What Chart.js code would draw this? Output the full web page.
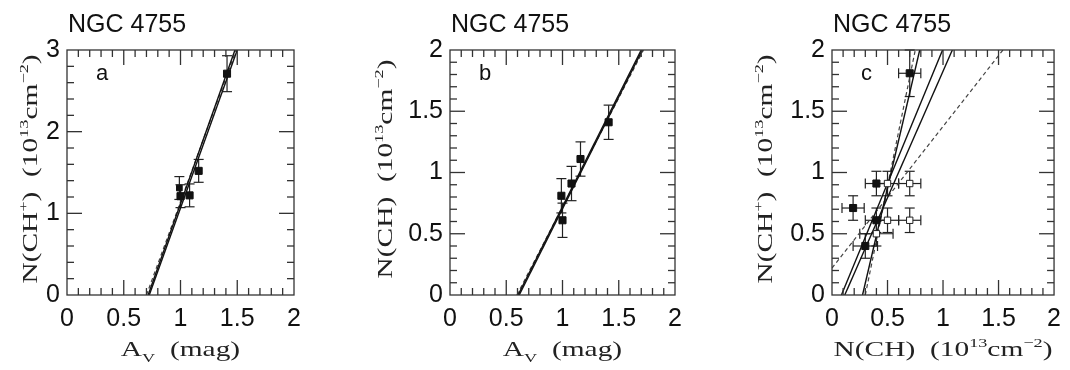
<!DOCTYPE html>
<html>
<head>
<meta charset="utf-8">
<script src="https://cdn.jsdelivr.net/npm/chart.js@4.4.0/dist/chart.umd.min.js"></script>
<style>
  html, body { margin: 0; padding: 0; background: #fff; }
  #wrap { position: relative; width: 1070px; height: 370px; }
  #wrap canvas { position: absolute; top: 0; }
</style>
</head>
<body>
<div id="wrap">
  <canvas id="panelA" width="356" height="370" style="left:0px"></canvas>
  <canvas id="panelB" width="357" height="370" style="left:356px"></canvas>
  <canvas id="panelC" width="357" height="370" style="left:713px"></canvas>
</div>
<script>
// panel a : N(CH+) against A_V
const avA = [0.99, 1.0, 1.08, 1.16, 1.41];
const chpA = [1.31, 1.21, 1.22, 1.52, 2.71];
const chpErrA = [0.14, 0.14, 0.14, 0.14, 0.22];
// fit lines, [x0, y0, x1, y1]
const solidA = [[0.715, 0, 1.48, 3], [0.725, 0, 1.50, 3]];
const dashedA = [[0.70, 0, 1.49, 3]];

// panel b : N(CH) against A_V
const avB = [0.99, 1.0, 1.08, 1.16, 1.41];
const chB = [0.81, 0.61, 0.91, 1.11, 1.41];
const chErrB = [0.14, 0.14, 0.14, 0.14, 0.14];
const solidB = [[0.605, 0, 1.70, 2], [0.615, 0, 1.71, 2]];
const dashedB = [[0.595, 0, 1.72, 2]];

// panel c : N(CH+) against N(CH)
const chC = [0.70, 0.40, 0.19, 0.40, 0.30];
const chpC = [1.81, 0.91, 0.71, 0.61, 0.40];
const chErrC = [0.10, 0.10, 0.10, 0.10, 0.11];
const chpErrC = [0.19, 0.10, 0.10, 0.10, 0.10];
const chOpenC = [0.50, 0.70, 0.50, 0.70, 0.40];
const chpOpenC = [0.91, 0.91, 0.61, 0.61, 0.50];
const chErrOpenC = [0.10, 0.10, 0.10, 0.10, 0.15];
const chpErrOpenC = [0.10, 0.10, 0.10, 0.10, 0.10];
const solidC = [[0.275, 0, 0.79, 2], [0.085, 0, 0.996, 2], [0.115, 0, 1.084, 2]];
const dashedC = [[0.30, 0, 0.75, 2], [0, 0.22, 1.54, 2]];

const xTicks = [0, 0.5, 1, 1.5, 2];

const sans = '"Liberation Sans", Arial, sans-serif';
const serif = '"Liberation Serif", "Times New Roman", serif';

const titleCH = [{ t: 'N(CH)  (10' }, { t: '13', sup: 1 }, { t: 'cm' }, { t: '\u22122', sup: 1 }, { t: ')' }];
const titleCHp = [{ t: 'N(CH' }, { t: '+', sup: 1 }, { t: ')  (10' }, { t: '13', sup: 1 }, { t: 'cm' }, { t: '\u22122', sup: 1 }, { t: ')' }];
const titleAv = [{ t: 'A' }, { t: 'V', sub: 1 }, { t: '  (mag)' }];

function pts(xs, ys) {
  return xs.map((x, i) => ({ x: x, y: ys[i] }));
}

// serif label with super/subscripts, stretched sideways like the original
function drawRich(ctx, segs, cx, cy, rotate) {
  const f = 21, stretch = 1.4;
  ctx.save();
  ctx.translate(cx, cy);
  if (rotate) ctx.rotate(-Math.PI / 2);
  ctx.scale(stretch, 1);
  let w = 0;
  segs.forEach(s => {
    ctx.font = ((s.sup || s.sub) ? f * 0.62 : f) + 'px ' + serif;
    w += ctx.measureText(s.t).width;
  });
  let xx = -w / 2;
  ctx.fillStyle = '#222';
  ctx.textAlign = 'left';
  ctx.textBaseline = 'alphabetic';
  segs.forEach(s => {
    ctx.font = ((s.sup || s.sub) ? f * 0.62 : f) + 'px ' + serif;
    const dy = s.sup ? -f * 0.45 : (s.sub ? f * 0.3 : 0);
    ctx.fillText(s.t, xx, dy);
    xx += ctx.measureText(s.t).width;
  });
  ctx.restore();
}

const frame = {
  id: 'frame',
  afterDatasetsDraw(chart, args, o) {
    const { ctx, chartArea: a, scales: { x, y } } = chart;
    ctx.save();
    ctx.strokeStyle = '#333';
    ctx.lineWidth = 1.3;
    const seg = (x0, y0, x1, y1) => {
      ctx.beginPath(); ctx.moveTo(x0, y0); ctx.lineTo(x1, y1); ctx.stroke();
    };
    let n = Math.round(x.max / 0.1);
    for (let i = 1; i < n; i++) {
      const px = x.getPixelForValue(i * 0.1);
      const len = i % 5 === 0 ? 15 : 7;
      seg(px, a.bottom, px, a.bottom - len);
      seg(px, a.top, px, a.top + len);
    }
    n = Math.round(y.max / o.yMinor);
    const every = Math.round(o.yMajor / o.yMinor);
    for (let i = 1; i < n; i++) {
      const py = y.getPixelForValue(i * o.yMinor);
      const len = i % every === 0 ? 15 : 7;
      seg(a.left, py, a.left + len, py);
      seg(a.right, py, a.right - len, py);
    }
    ctx.strokeRect(a.left, a.top, a.right - a.left, a.bottom - a.top);
    ctx.restore();
  },
  afterDraw(chart, args, o) {
    const { ctx, chartArea: a } = chart;
    ctx.save();
    ctx.fillStyle = '#111';
    ctx.textAlign = 'left';
    ctx.textBaseline = 'alphabetic';
    ctx.font = '25px ' + sans;
    ctx.fillText('NGC 4755', a.left + 1, 32);
    ctx.font = '22px ' + sans;
    ctx.fillText(o.letter, a.left + 29, 80);
    ctx.restore();
    drawRich(ctx, o.xTitle, (a.left + a.right) / 2, 356, false);
    drawRich(ctx, o.yTitle, a.left + o.yTitleOffset, 169, true);
  }
};

const errorBars = {
  id: 'errorBars',
  beforeDatasetsDraw(chart) {
    const { ctx, scales: { x, y } } = chart;
    ctx.save();
    ctx.strokeStyle = '#222';
    ctx.lineWidth = 1.2;
    const seg = (x0, y0, x1, y1) => {
      ctx.beginPath(); ctx.moveTo(x0, y0); ctx.lineTo(x1, y1); ctx.stroke();
    };
    chart.data.datasets.forEach(ds => {
      if (!ds.xErr && !ds.yErr) return;
      ds.data.forEach((p, i) => {
        const px = x.getPixelForValue(p.x), py = y.getPixelForValue(p.y);
        if (ds.yErr) {
          const t = y.getPixelForValue(p.y + ds.yErr[i]);
          const b = y.getPixelForValue(p.y - ds.yErr[i]);
          seg(px, t, px, b);
          seg(px - 5, t, px + 5, t);
          seg(px - 5, b, px + 5, b);
        }
        if (ds.xErr) {
          const l = x.getPixelForValue(p.x - ds.xErr[i]);
          const r = x.getPixelForValue(p.x + ds.xErr[i]);
          seg(l, py, r, py);
          seg(l, py - 5, l, py + 5);
          seg(r, py - 5, r, py + 5);
        }
      });
    });
    ctx.restore();
  }
};

function lineSets(list, dashed) {
  return list.map(l => ({
    data: [{ x: l[0], y: l[1] }, { x: l[2], y: l[3] }],
    showLine: true,
    pointRadius: 0,
    borderWidth: dashed ? 1.2 : 1.4,
    borderColor: dashed ? '#444' : '#111',
    borderDash: dashed ? [4, 3] : []
  }));
}

function makePanel(id, p) {
  new Chart(document.getElementById(id), {
    type: 'scatter',
    data: { datasets: p.datasets },
    plugins: [errorBars, frame],
    options: {
      responsive: false,
      animation: false,
      layout: { padding: { top: 50, right: p.rightPad, left: 0, bottom: 0 } },
      plugins: {
        legend: { display: false },
        tooltip: { enabled: false },
        frame: { letter: p.letter, xTitle: p.xTitle, yTitle: p.yTitle, yTitleOffset: p.yTitleOffset, yMinor: p.yMinor, yMajor: p.yMajor }
      },
      scales: {
        x: {
          type: 'linear', min: 0, max: 2,
          afterBuildTicks: s => { s.ticks = xTicks.map(v => ({ value: v })); },
          afterFit: s => { s.height = 75; },
          grid: { display: false, drawTicks: false },
          border: { display: false },
          ticks: { padding: 9, color: '#111', font: { family: sans, size: 25 }, autoSkip: false, maxRotation: 0, callback: v => String(v) }
        },
        y: {
          type: 'linear', min: 0, max: p.yMax,
          afterBuildTicks: s => { s.ticks = p.yTicks.map(v => ({ value: v })); },
          afterFit: s => { s.width = p.plotLeft; },
          grid: { display: false, drawTicks: false },
          border: { display: false },
          ticks: { padding: 7, color: '#111', font: { family: sans, size: 25 }, autoSkip: false, callback: v => String(v) }
        }
      }
    }
  });
}

const filled = { pointStyle: 'rect', backgroundColor: '#111', borderColor: '#111', borderWidth: 1, pointRadius: 5, showLine: false };
const open = { pointStyle: 'rect', backgroundColor: '#fff', borderColor: '#222', borderWidth: 1, pointRadius: 4.5, showLine: false };

makePanel('panelA', {
  plotLeft: 67, rightPad: 62, yMax: 3, yTicks: [0, 1, 2, 3], yMinor: 0.2, yMajor: 1,
  letter: 'a', xTitle: titleAv, yTitle: titleCHp, yTitleOffset: -30,
  datasets: [
    Object.assign({}, filled, { data: pts(avA, chpA), yErr: chpErrA, pointRadius: [4, 5, 5, 5, 5] })
  ].concat(lineSets(solidA, false), lineSets(dashedA, true))
});

makePanel('panelB', {
  plotLeft: 94, rightPad: 38, yMax: 2, yTicks: [0, 0.5, 1, 1.5, 2], yMinor: 0.1, yMajor: 0.5,
  letter: 'b', xTitle: titleAv, yTitle: titleCH, yTitleOffset: -58,
  datasets: [
    Object.assign({}, filled, { data: pts(avB, chB), yErr: chErrB })
  ].concat(lineSets(solidB, false), lineSets(dashedB, true))
});

makePanel('panelC', {
  plotLeft: 119, rightPad: 12, yMax: 2, yTicks: [0, 0.5, 1, 1.5, 2], yMinor: 0.1, yMajor: 0.5,
  letter: 'c', xTitle: titleCH, yTitle: titleCHp, yTitleOffset: -60,
  datasets: [
    Object.assign({}, filled, { data: pts(chC, chpC), xErr: chErrC, yErr: chpErrC }),
    Object.assign({}, open, { data: pts(chOpenC, chpOpenC), xErr: chErrOpenC, yErr: chpErrOpenC })
  ].concat(lineSets(solidC, false), lineSets(dashedC, true))
});
</script>
</body>
</html>
